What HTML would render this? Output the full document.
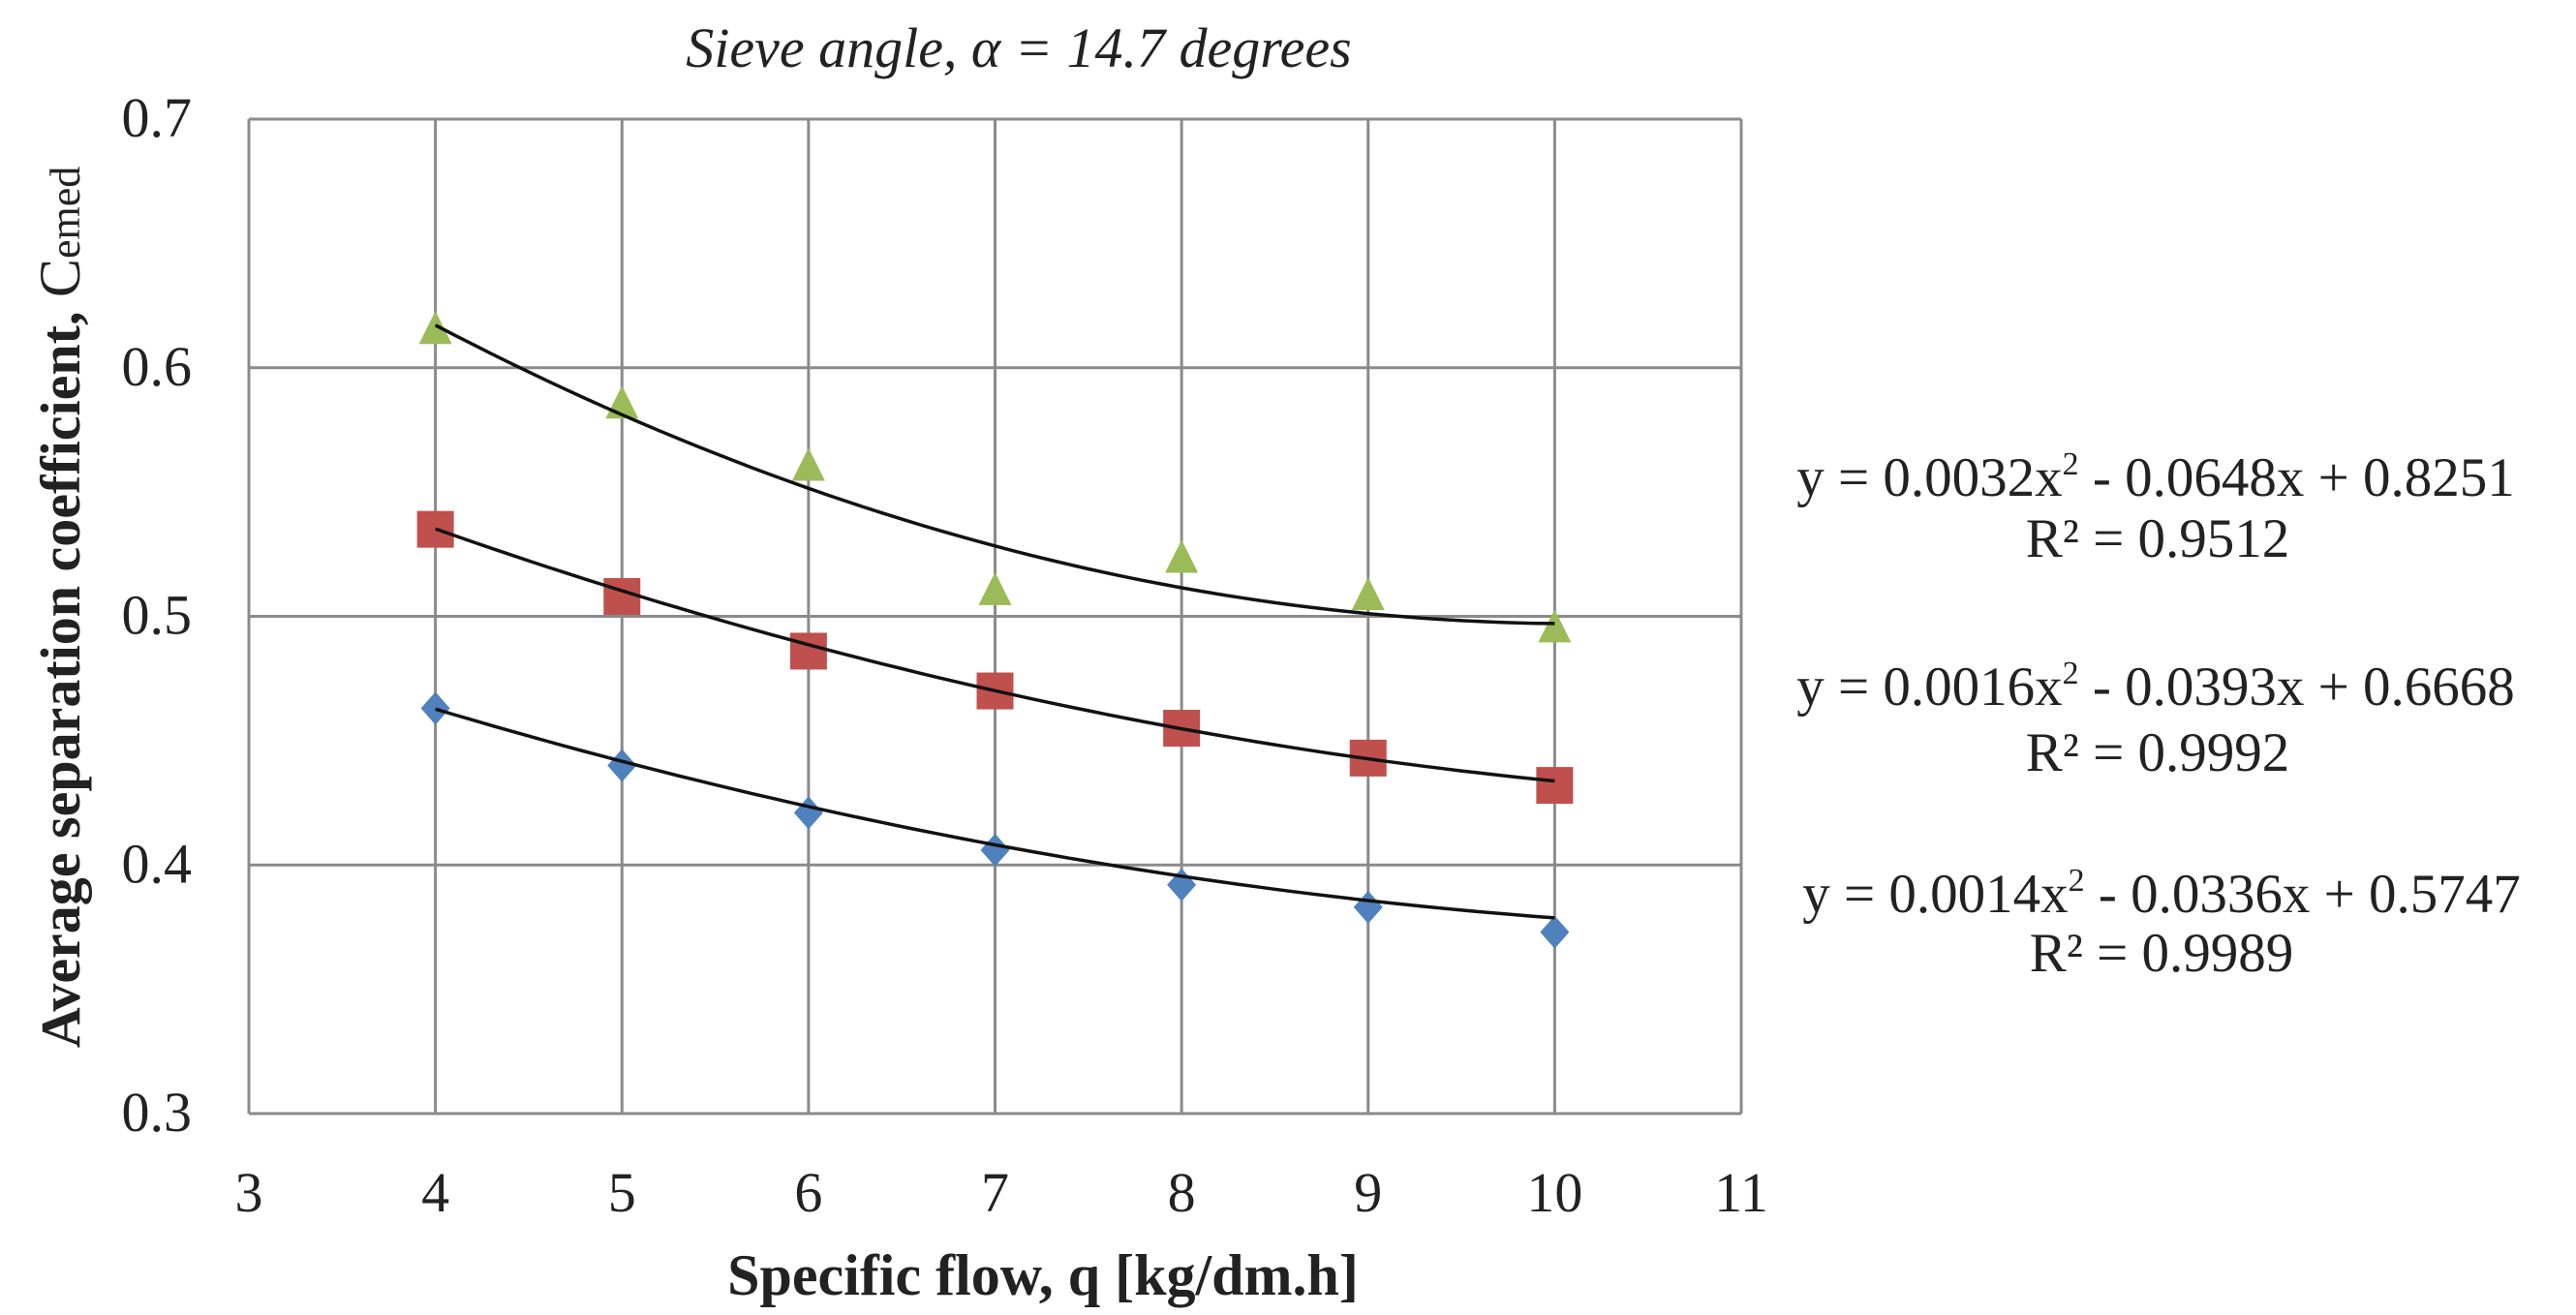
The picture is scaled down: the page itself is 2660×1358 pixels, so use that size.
<!DOCTYPE html>
<html><head><meta charset="utf-8"><style>
html,body{margin:0;padding:0;background:#fff;}
svg{display:block;}
text{font-family:"Liberation Serif",serif;fill:#222;}
</style></head><body>
<svg id="chart" width="2660" height="1358" viewBox="0 0 2660 1358" xmlns="http://www.w3.org/2000/svg">
<text x="1052" y="69" font-size="58" font-style="italic" text-anchor="middle">Sieve angle, α = 14.7  degrees</text>
<g id="grid"></g>
<g id="ticks"></g>
<g id="series"></g>
<text x="1077" y="1337" font-size="60" font-weight="bold" text-anchor="middle">Specific flow, q  [kg/dm.h]</text>
<text transform="translate(82,627) rotate(-90)" font-size="58" font-weight="bold" text-anchor="middle">Average separation coefficient, <tspan font-weight="normal" font-size="60">C</tspan><tspan font-weight="normal" font-size="44">emed</tspan></text>
<g font-size="57" text-anchor="middle">
<text x="2226" y="512">y = 0.0032x<tspan font-size="34" dy="-22">2</tspan><tspan dy="22">  - 0.0648x + 0.8251</tspan></text>
<text x="2228" y="575">R² = 0.9512</text></g>
<g font-size="57" text-anchor="middle">
<text x="2226" y="728">y = 0.0016x<tspan font-size="34" dy="-22">2</tspan><tspan dy="22">  - 0.0393x + 0.6668</tspan></text>
<text x="2228" y="796">R² = 0.9992</text></g>
<g font-size="57" text-anchor="middle">
<text x="2232" y="942">y = 0.0014x<tspan font-size="34" dy="-22">2</tspan><tspan dy="22">  - 0.0336x + 0.5747</tspan></text>
<text x="2232" y="1003">R² = 0.9989</text></g>
</svg>
<script>
const xTicks=[3,4,5,6,7,8,9,10,11];
const yTicks=[0.3,0.4,0.5,0.6,0.7];
const xCats=[4,5,6,7,8,9,10];
const greenVals=[0.615,0.585,0.560,0.510,0.523,0.508,0.495];
const redVals=[0.535,0.508,0.486,0.470,0.455,0.443,0.432];
const blueVals=[0.463,0.440,0.421,0.406,0.392,0.383,0.373];
const greenFit=[0.0032,-0.0648,0.8251];
const redFit=[0.0016,-0.0393,0.6668];
const blueFit=[0.0014,-0.0336,0.5747];

const L=257,R=1798,T=123,B=1150;
const X=v=>L+(v-3)/(11-3)*(R-L);
const Y=v=>B-(v-0.3)/(0.7-0.3)*(B-T);
const NS='http://www.w3.org/2000/svg';
function mk(tag,attrs,parent){const e=document.createElementNS(NS,tag);for(const k in attrs)e.setAttribute(k,attrs[k]);parent.appendChild(e);return e;}
const grid=document.getElementById('grid'),ticks=document.getElementById('ticks'),series=document.getElementById('series');
xTicks.forEach(t=>{
  const l=mk('line',{x1:X(t),x2:X(t),y1:T,y2:B,stroke:'#8a8a8a','stroke-width':3},grid);
  
  
  const tx=mk('text',{x:X(t),y:1251,'font-size':58,'text-anchor':'middle'},ticks);
  tx.textContent=t;
  
  
});
yTicks.forEach(t=>{
  const l=mk('line',{x1:L,x2:R,y1:Y(t),y2:Y(t),stroke:'#8a8a8a','stroke-width':3},grid);
  
  
  const tx=mk('text',{x:198,y:Y(t)+18,'font-size':58,'text-anchor':'end'},ticks);
  tx.textContent=t.toFixed(1);
  
  
});
function trend(c,name){
  let d='';
  for(let i=0;i<=60;i++){const x=4+6*i/60;const y=c[0]*x*x+c[1]*x+c[2];d+=(i?'L':'M')+X(x).toFixed(1)+' '+Y(y).toFixed(1);}
  const p=mk('path',{d:d,fill:'none',stroke:'#111','stroke-width':3.5},series);
  
  
}
function markers(vals,shape,color,name){
  vals.forEach((v,i)=>{
    const cx=X(xCats[i]),cy=Y(v);let e;
    if(shape==='sq') e=mk('rect',{x:cx-19,y:cy-19,width:38,height:38,fill:color},series);
    else if(shape==='tri') e=mk('polygon',{points:`${cx},${cy-20} ${cx+17},${cy+14} ${cx-17},${cy+14}`,fill:color},series);
    else e=mk('polygon',{points:`${cx},${cy-17} ${cx+15},${cy} ${cx},${cy+17} ${cx-15},${cy}`,fill:color},series);
    
    
  });
}
markers(greenVals,'tri','#9bbb59','green-triangle-point');
markers(redVals,'sq','#c0504d','red-square-point');
markers(blueVals,'dia','#4f81bd','blue-diamond-point');
trend(greenFit,'green-trendline');
trend(redFit,'red-trendline');
trend(blueFit,'blue-trendline');
</script>
</body></html>
